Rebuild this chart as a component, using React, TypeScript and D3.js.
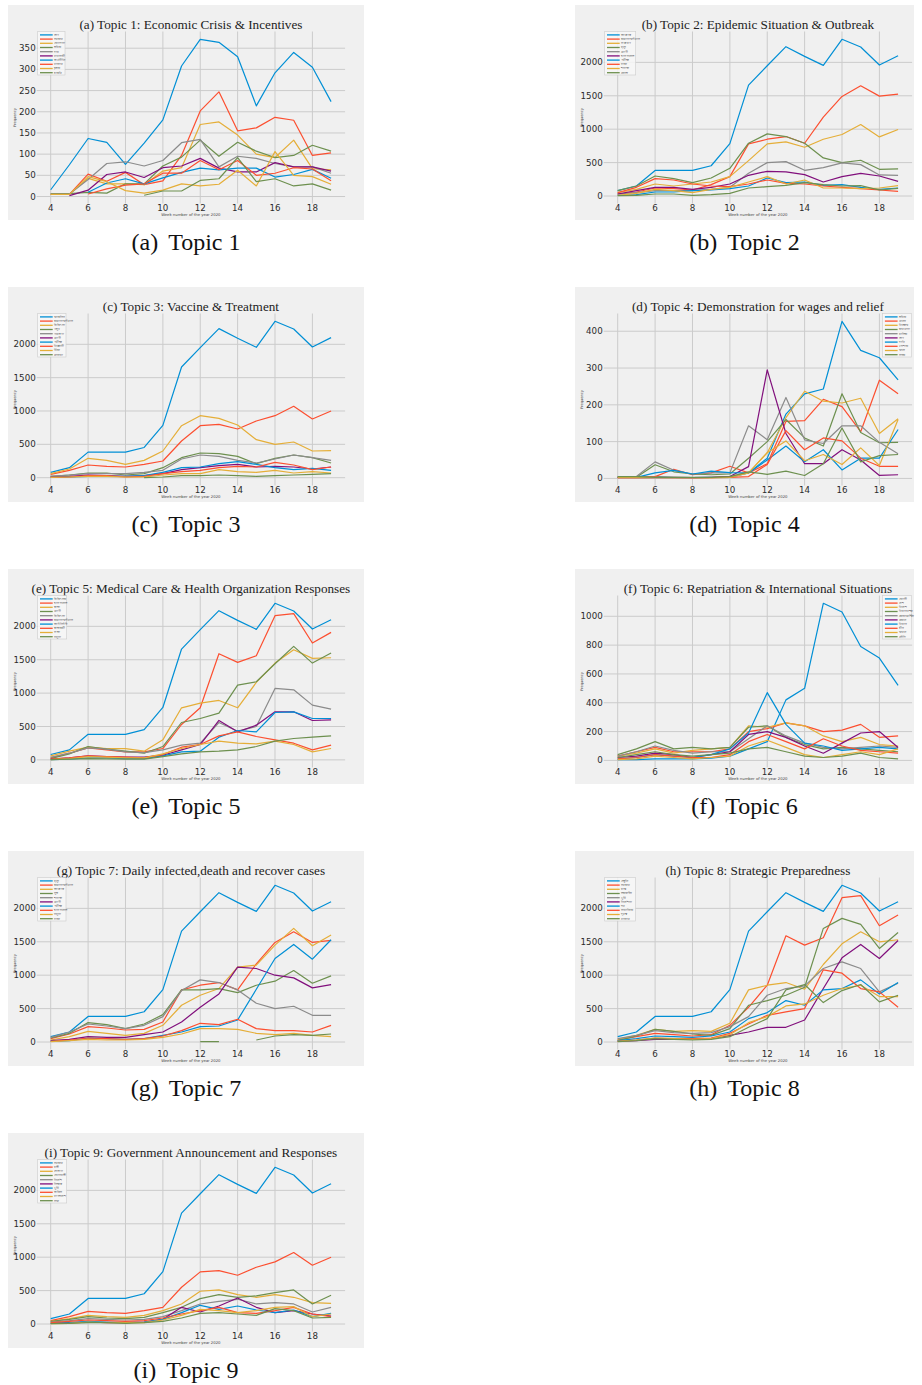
import React from 'react';
import * as d3 from 'd3';

type V = number | null;

const weeks = [4, 5, 6, 7, 8, 9, 10, 11, 12, 13, 14, 15, 16, 17, 18, 19];
const xTicks = [4, 6, 8, 10, 12, 14, 16, 18];
const palette = ['#008fd5', '#fc4f30', '#e5ae38', '#6d904f', '#8b8b8b', '#810f7c'];

const outbreakTotal: V[] = [80, 150, 383, 383, 383, 453, 785, 1660, 1950, 2235, 2090, 1955, 2345, 2230, 1960, 2100];
const announceRed: V[] = [50, 110, 190, 170, 160, 200, 250, 550, 780, 800, 730, 850, 930, 1070, 880, 1000];

// Topic 1
const t1Title = '(a) Topic 1: Economic Crisis & Incentives';
const t1Words = ['ত্রাণ', 'সরকার', 'প্রণোদনা', 'শ্রমিক', 'দাম', 'ব্যবসায়ী', 'অর্থনীতি', 'বাজার', 'কৃষক', 'চাকরি'];
const t1Ticks = [0, 50, 100, 150, 200, 250, 300, 350];
const t1Series: V[][] = [
  [16, 75, 137, 128, 76, 126, 181, 308, 371, 364, 330, 214, 292, 340, 305, 224],
  [5, 5, 53, 36, 57, 28, 37, 97, 202, 247, 155, 162, 187, 180, 97, 103],
  [5, 5, 43, 30, 30, 28, 60, 68, 170, 176, 145, 100, 92, 133, 66, 63],
  [7, 7, 10, 8, 30, 30, 72, 93, 133, 95, 128, 107, 92, 97, 121, 107],
  [6, 6, 40, 78, 82, 72, 85, 127, 135, 70, 95, 90, 78, 70, 70, 55],
  [null, 2, 15, 52, 58, 45, 68, 72, 90, 67, 58, 58, 80, 70, 70, 60],
  [null, null, 10, 32, 42, 30, 44, 57, 67, 63, 67, 67, 46, 52, 64, 43],
  [null, null, 6, 18, 27, 30, 55, 55, 85, 63, 85, 50, 55, 68, 65, 37],
  [5, 5, 47, 35, 14, 8, 15, 30, 25, 29, 62, 25, 106, 50, 47, 29],
  [null, null, null, null, null, 3, 13, 13, 38, 42, 92, 35, 42, 25, 30, 15],
];

// Topic 2
const t2Title = '(b) Topic 2: Epidemic Situation & Outbreak';
const t2Words = ['আক্রান্ত', 'করোনাভাইরাস', 'সংক্রমণ', 'মৃত্যু', 'রোগী', 'হাসপাতাল', 'পরীক্ষা', 'ঢাকা', 'শনাক্ত', 'জেলা'];
const kTicks = [0, 500, 1000, 1500, 2000];
const t2Series: V[][] = [
  outbreakTotal,
  [30, 60, 120, 110, 90, 170, 290, 780, 850, 890, 790, 1180, 1490, 1650, 1495, 1525],
  [50, 100, 180, 150, 180, 210, 290, 530, 780, 810, 730, 850, 920, 1070, 885, 995],
  [80, 150, 300, 260, 200, 270, 415, 790, 930, 890, 790, 570, 500, 535, 400, 405],
  [30, 50, 80, 80, 80, 100, 130, 340, 500, 515, 385, 425, 495, 470, 315, 310],
  [30, 80, 130, 130, 100, 130, 180, 310, 370, 360, 320, 210, 290, 340, 300, 220],
  [10, 20, 60, 60, 80, 90, 110, 150, 270, 200, 210, 160, 170, 130, 100, 120],
  [50, 130, 260, 240, 180, 150, 140, 180, 240, 190, 180, 150, 130, 110, 90, 70],
  [10, 40, 100, 80, 50, 100, 130, 210, 290, 180, 240, 120, 120, 110, 120, 155],
  [5, 10, 30, 30, 10, 20, 40, 120, 140, 160, 200, 170, 150, 155, 90, 115],
];

// Topic 3
const t3Title = '(c) Topic 3: Vaccine & Treatment';
const t3Words = ['ভ্যাকসিন', 'করোনাভাইরাস', 'চিকিৎসা', 'ওষুধ', 'গবেষণা', 'রোগী', 'পরীক্ষা', 'বিজ্ঞানী', 'টিকা', 'প্লাজমা'];
const t3Series: V[][] = [
  outbreakTotal,
  announceRed,
  [60, 130, 290, 260, 200, 260, 400, 780, 930, 890, 790, 570, 500, 535, 400, 405],
  [20, 40, 70, 70, 40, 60, 150, 300, 370, 360, 320, 210, 290, 340, 300, 220],
  [20, 40, 60, 60, 60, 80, 110, 280, 340, 320, 260, 220, 280, 340, 300, 260],
  [10, 20, 40, 30, 20, 30, 60, 120, 150, 180, 200, 160, 170, 160, 130, 160],
  [5, 10, 20, 20, 20, 30, 80, 150, 160, 210, 240, 200, 150, 120, 140, 110],
  [5, 10, 30, 30, 10, 20, 60, 90, 110, 150, 170, 160, 230, 190, 120, 160],
  [5, 10, 20, 20, 10, 10, 40, 60, 60, 120, 90, 80, 110, 70, 90, 70],
  [null, null, null, null, null, 0, 10, 30, 30, 40, 30, 20, 30, 40, 50, 60],
];

// Topic 4
const t4Title = '(d) Topic 4: Demonstration for wages and relief';
const t4Words = ['শ্রমিক', 'বেতন', 'বিক্ষোভ', 'কারখানা', 'মালিক', 'ত্রাণ', 'দাবি', 'পোশাক', 'ভাতা', 'সড়ক'];
const t4Ticks = [0, 100, 200, 300, 400];
const t4Series: V[][] = [
  [3, 3, 5, 3, 2, 3, 3, 15, 55, 175, 230, 243, 427, 348, 328, 268],
  [3, 3, 5, 25, 10, 15, 33, 15, 40, 155, 157, 215, 195, 127, 267, 230],
  [3, 3, 3, 2, 2, 2, 5, 15, 70, 165, 237, 210, 205, 218, 122, 162],
  [3, 3, 37, 18, 12, 10, 12, 55, 100, 160, 110, 88, 230, 125, 97, 98],
  [5, 5, 45, 22, 12, 15, 15, 143, 105, 220, 105, 95, 143, 143, 98, 67],
  [2, 2, 2, 2, 2, 3, 5, 32, 295, 122, 40, 40, 78, 50, 8, 10],
  [3, 3, 15, 22, 12, 20, 16, 15, 50, 88, 45, 78, 23, 55, 55, 133],
  [2, 2, 3, 3, 2, 2, 3, 5, 38, 130, 78, 110, 102, 55, 33, 33],
  [2, 2, 2, 2, 2, 2, 3, 15, 70, 102, 48, 65, 38, 83, 35, 160],
  [5, 5, 3, 3, 3, 3, 5, 18, 11, 20, 8, 40, 137, 45, 62, 65],
];

// Topic 5
const t5Title = '(e) Topic 5: Medical Care & Health Organization Responses';
const t5Words = ['চিকিৎসক', 'হাসপাতাল', 'স্বাস্থ্য', 'রোগী', 'চিকিৎসা', 'করোনাভাইরাস', 'আইসিইউ', 'স্বাস্থ্যকর্মী', 'সংস্থা', 'নমুনা'];
const t5Series: V[][] = [
  outbreakTotal,
  [30, 100, 180, 150, 120, 120, 170, 530, 780, 1590, 1460, 1560, 2160, 2190, 1750, 1910],
  [60, 130, 190, 170, 170, 130, 300, 780, 850, 890, 780, 1160, 1450, 1650, 1520, 1530],
  [20, 90, 200, 160, 130, 100, 200, 560, 620, 700, 1120, 1170, 1440, 1700, 1450, 1600],
  [40, 100, 180, 160, 120, 110, 150, 220, 250, 560, 430, 500, 1070, 1050, 820, 760],
  [10, 30, 60, 50, 40, 40, 70, 150, 230, 590, 420, 520, 720, 720, 590, 600],
  [5, 10, 30, 30, 20, 20, 60, 120, 130, 340, 440, 420, 710, 720, 620, 620],
  [10, 30, 60, 50, 40, 30, 80, 190, 230, 360, 420, 350, 300, 250, 150, 220],
  [5, 20, 50, 40, 30, 30, 90, 170, 230, 280, 250, 240, 280, 230, 120, 170],
  [3, 10, 20, 15, 10, 10, 50, 90, 120, 130, 150, 200, 280, 320, 340, 360],
];

// Topic 6
const t6Title = '(f) Topic 6: Repatriation & International Situations';
const t6Words = ['প্রবাসী', 'দেশ', 'বিদেশ', 'বিমানবন্দর', 'কোয়ারেন্টিন', 'ফেরত', 'বিমান', 'চীন', 'ভারত', 'সৌদি'];
const t6Ticks = [0, 200, 400, 600, 800, 1000];
const t6Series: V[][] = [
  [5, 5, 10, 10, 10, 15, 30, 80, 130, 420, 500, 1090, 1030, 790, 710, 520],
  [30, 60, 90, 60, 60, 60, 80, 200, 220, 260, 240, 200, 210, 250, 160, 170],
  [30, 50, 80, 50, 70, 80, 90, 240, 230, 260, 240, 170, 130, 160, 110, 100],
  [40, 80, 130, 80, 90, 80, 90, 230, 240, 160, 110, 80, 90, 80, 70, 60],
  [30, 60, 100, 70, 50, 60, 60, 150, 240, 170, 120, 90, 80, 90, 100, 90],
  [20, 30, 50, 40, 20, 40, 60, 180, 200, 160, 100, 50, 120, 190, 200, 90],
  [10, 20, 40, 30, 20, 40, 80, 190, 470, 250, 120, 100, 70, 80, 90, 80],
  [10, 20, 40, 30, 20, 20, 40, 130, 180, 130, 80, 150, 100, 70, 60, 50],
  [5, 10, 30, 20, 10, 20, 30, 100, 140, 90, 40, 20, 40, 60, 40, 80],
  [20, 40, 60, 40, 30, 40, 50, 80, 90, 60, 30, 20, 30, 50, 20, 10],
];

// Topic 7
const t7Title = '(g) Topic 7: Daily infected,death and recover cases';
const t7Words = ['মৃত্যু', 'করোনাভাইরাস', 'আক্রান্ত', 'সুস্থ', 'শনাক্ত', 'রোগী', 'পরীক্ষা', 'হাসপাতাল', 'নমুনা', 'ঢাকা'];
const t7Series: V[][] = [
  outbreakTotal,
  [50, 120, 230, 210, 180, 190, 300, 780, 850, 890, 780, 1170, 1490, 1650, 1490, 1520],
  [30, 80, 160, 130, 100, 130, 250, 550, 700, 800, 1120, 1150, 1450, 1700, 1440, 1600],
  [60, 130, 290, 260, 200, 270, 410, 780, 780, 800, 740, 850, 910, 1070, 880, 990],
  [70, 150, 270, 240, 200, 250, 380, 770, 930, 890, 780, 580, 500, 535, 400, 400],
  [20, 40, 80, 70, 70, 110, 150, 300, 520, 720, 1120, 1100, 1000, 960, 810, 860],
  [10, 20, 60, 50, 40, 50, 100, 150, 230, 240, 330, 790, 1250, 1460, 1240, 1530],
  [10, 30, 60, 50, 40, 50, 90, 170, 280, 260, 340, 200, 170, 170, 150, 250],
  [5, 20, 40, 30, 30, 40, 70, 120, 200, 200, 190, 130, 110, 130, 100, 80],
  [null, null, null, null, null, null, null, null, 5, 5, null, 30, 90, 110, 100, 120],
];

// Topic 8
const t8Title = '(h) Topic 8: Strategic Preparedness';
const t8Words = ['প্রস্তুতি', 'সরকার', 'মাস্ক', 'লকডাউন', 'ছুটি', 'নির্দেশনা', 'ঘর', 'সামাজিক', 'দূরত্ব', 'বাজার'];
const t8Series: V[][] = [
  outbreakTotal,
  [30, 80, 130, 110, 90, 110, 250, 520, 850, 1590, 1450, 1560, 2160, 2190, 1740, 1900],
  [40, 100, 190, 160, 170, 160, 280, 780, 850, 890, 790, 1160, 1470, 1650, 1500, 1530],
  [20, 90, 190, 160, 120, 100, 200, 550, 620, 700, 820, 1700, 1850, 1760, 1400, 1640],
  [50, 100, 170, 140, 130, 140, 230, 380, 700, 800, 840, 1100, 1200, 1100, 750, 880],
  [10, 20, 40, 40, 40, 50, 100, 150, 220, 220, 330, 800, 1260, 1460, 1250, 1520],
  [20, 50, 90, 80, 70, 90, 150, 350, 440, 620, 550, 780, 800, 930, 720, 890],
  [10, 30, 60, 50, 50, 60, 130, 270, 400, 450, 500, 1080, 1030, 800, 750, 520],
  [10, 30, 60, 50, 40, 50, 110, 290, 380, 540, 570, 700, 800, 850, 680, 680],
  [5, 20, 50, 40, 30, 40, 80, 220, 350, 780, 860, 590, 770, 860, 600, 700],
];

// Topic 9
const t9Title = '(i) Topic 9: Government Announcement and Responses';
const t9Words = ['সরকার', 'মন্ত্রী', 'ঘোষণা', 'প্রধানমন্ত্রী', 'নির্দেশ', 'সিদ্ধান্ত', 'ছুটি', 'অফিস', 'বাংলাদেশ', 'সভা'];
const t9Series: V[][] = [
  outbreakTotal,
  announceRed,
  [40, 80, 130, 110, 100, 130, 200, 300, 490, 510, 440, 400, 440, 400, 320, 310],
  [40, 70, 110, 90, 80, 100, 170, 250, 380, 440, 400, 420, 470, 510, 300, 430],
  [30, 50, 80, 70, 60, 70, 110, 200, 300, 340, 370, 300, 320, 300, 180, 250],
  [10, 20, 30, 20, 20, 30, 70, 250, 180, 270, 390, 250, 170, 200, 150, 120],
  [10, 20, 40, 30, 20, 30, 70, 170, 280, 220, 270, 210, 170, 210, 110, 160],
  [20, 40, 60, 50, 40, 50, 90, 150, 200, 250, 170, 160, 200, 250, 150, 110],
  [5, 10, 30, 20, 20, 20, 60, 130, 220, 200, 170, 200, 250, 260, 110, 150],
  [5, 10, 20, 20, 10, 20, 40, 90, 160, 170, 150, 130, 230, 200, 90, 100],
];

const colX = [8, 575];
const colW = [356, 339];
const rowY = [5, 287, 569, 851, 1133];
const BG_H = 215;
const PLOT = { left: 28.7, right: 337.1, top: 26.5, bottom: 198.5 };

interface PanelDef {
  title: string; words: string[]; series: V[][]; ticks: number[];
  col: number; row: number; legendRight: boolean; legendW: number; letter: string; topic: number;
}

const panels: PanelDef[] = [
  { title: t1Title, words: t1Words, series: t1Series, ticks: t1Ticks, col: 0, row: 0, legendRight: false, legendW: 27.3, letter: 'a', topic: 1 },
  { title: t2Title, words: t2Words, series: t2Series, ticks: kTicks, col: 1, row: 0, legendRight: false, legendW: 31, letter: 'b', topic: 2 },
  { title: t3Title, words: t3Words, series: t3Series, ticks: kTicks, col: 0, row: 1, legendRight: false, legendW: 28.3, letter: 'c', topic: 3 },
  { title: t4Title, words: t4Words, series: t4Series, ticks: t4Ticks, col: 1, row: 1, legendRight: true, legendW: 29, letter: 'd', topic: 4 },
  { title: t5Title, words: t5Words, series: t5Series, ticks: kTicks, col: 0, row: 2, legendRight: false, legendW: 29, letter: 'e', topic: 5 },
  { title: t6Title, words: t6Words, series: t6Series, ticks: t6Ticks, col: 1, row: 2, legendRight: true, legendW: 29, letter: 'f', topic: 6 },
  { title: t7Title, words: t7Words, series: t7Series, ticks: kTicks, col: 0, row: 3, legendRight: false, legendW: 28.3, letter: 'g', topic: 7 },
  { title: t8Title, words: t8Words, series: t8Series, ticks: kTicks, col: 1, row: 3, legendRight: false, legendW: 30.7, letter: 'h', topic: 8 },
  { title: t9Title, words: t9Words, series: t9Series, ticks: kTicks, col: 0, row: 4, legendRight: false, legendW: 29, letter: 'i', topic: 9 },
];

function Panel({ p }: { p: PanelDef }) {
  const px = colX[p.col];
  const py = rowY[p.row];
  const pw = colW[p.col];
  const x = d3.scaleLinear().domain([3.25, 19.75]).range([px + PLOT.left, px + PLOT.right]);
  const vals = p.series.flat().filter((v): v is number => v != null);
  const lo = d3.min(vals) as number;
  const hi = d3.max(vals) as number;
  const pad = (hi - lo) * 0.05;
  const y = d3.scaleLinear().domain([lo - pad, hi + pad]).range([py + PLOT.bottom, py + PLOT.top]);
  const line = d3.line<V>()
    .defined((d) => d != null)
    .x((_, i) => x(weeks[i]))
    .y((d) => y(d as number));
  const x0 = px + PLOT.left, x1 = px + PLOT.right, y0 = py + PLOT.top, y1 = py + PLOT.bottom;
  const lx = p.legendRight ? x1 - p.legendW - 0.5 : x0 + 1;
  const ly = py + 26.5;
  const cx = px + pw / 2;
  return (
    <g>
      <rect x={px} y={py} width={pw} height={BG_H} fill="#f0f0f0" />
      {p.ticks.map((t) => (
        <line key={'h' + t} x1={x0} x2={x1} y1={y(t)} y2={y(t)} stroke="#cbcbcb" strokeWidth={1} />
      ))}
      {xTicks.map((t) => (
        <line key={'v' + t} x1={x(t)} x2={x(t)} y1={y0} y2={y1} stroke="#cbcbcb" strokeWidth={1} />
      ))}
      {p.series.map((s, i) => (
        <path key={i} d={line(s) || ''} fill="none" stroke={palette[i % palette.length]} strokeWidth={1.2} strokeLinejoin="round" />
      ))}
      {p.ticks.map((t) => (
        <text key={'yt' + t} x={x0 - 1} y={y(t)} dy="0.35em" textAnchor="end" fontFamily="DejaVu Sans" fontSize={8.7} fill="#2b2b2b">{t}</text>
      ))}
      {xTicks.map((t) => (
        <text key={'xt' + t} x={x(t)} y={py + 205.5} textAnchor="middle" fontFamily="DejaVu Sans" fontSize={8.7} fill="#2b2b2b">{t}</text>
      ))}
      <text x={(x0 + x1) / 2} y={py + 211.3} textAnchor="middle" fontFamily="DejaVu Sans" fontSize={3.8} fill="#444">Week number of the year 2020</text>
      <text transform={`translate(${px + 7.5},${(y0 + y1) / 2}) rotate(-90)`} textAnchor="middle" fontFamily="DejaVu Sans" fontSize={3.6} fill="#444">Frequency</text>
      <text x={(x0 + x1) / 2} y={py + 24} textAnchor="middle" fontFamily="Liberation Serif" fontSize={13.2} fill="#222">{p.title}</text>
      <g>
        <rect x={lx} y={ly} width={p.legendW} height={43.5} fill="#f7f7f7" fillOpacity={0.85} stroke="#cccccc" strokeWidth={0.6} />
        {p.words.map((w, i) => {
          const ey = ly + 3.4 + i * 4.2;
          return (
            <g key={'lg' + i}>
              <line x1={lx + 2.3} x2={lx + 15} y1={ey} y2={ey} stroke={palette[i % palette.length]} strokeWidth={1.3} />
              <text x={lx + 16.5} y={ey} dy="0.35em" fontFamily="Noto Sans, DejaVu Sans" fontSize={2.8} fill="#444">{w}</text>
            </g>
          );
        })}
      </g>
      <text x={cx} y={py + 245} textAnchor="middle" fontFamily="Liberation Serif" fontSize={24} fill="#111">
        ({p.letter})<tspan dx="10">{`Topic ${p.topic}`}</tspan>
      </text>
    </g>
  );
}

export default function App() {
  return (
    <svg width={922} height={1385} style={{ position: 'absolute', left: 0, top: 0, background: '#ffffff' }}>
      {panels.map((p) => (
        <Panel key={p.letter} p={p} />
      ))}
    </svg>
  );
}
